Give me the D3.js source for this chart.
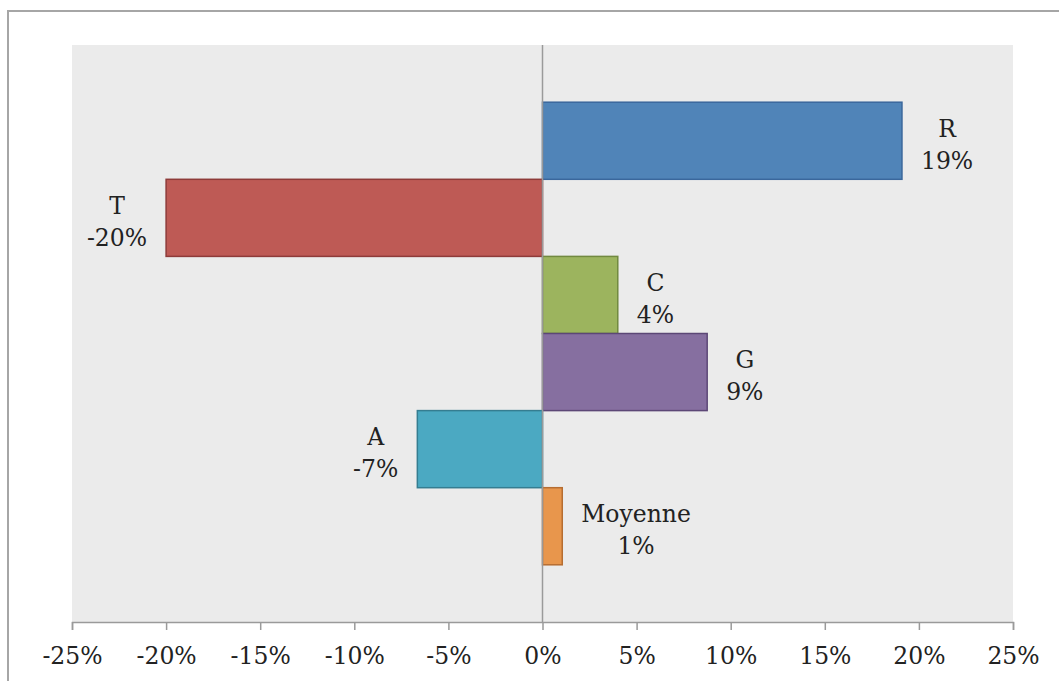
<!DOCTYPE html>
<html>
<head>
<meta charset="utf-8">
<script src="https://cdn.jsdelivr.net/npm/d3@7"></script>
<style>
  html, body { margin: 0; padding: 0; background: #fff; }
  svg { display: block; }
  text { font-family: "DejaVu Serif", "Liberation Serif", serif; fill: #222; }
</style>
</head>
<body>
<svg id="chart" width="1059" height="681"></svg>
<script>
// Écart par rapport à la référence, par série
const categories = ["R", "T", "C", "G", "A", "Moyenne"];
const values = [0.191, -0.20, 0.04, 0.0875, -0.0665, 0.0105];
const fills = ["#5084B8", "#BE5A55", "#9CB45E", "#866FA0", "#4BA9C2", "#E8964C"];
const strokes = ["#3A679C", "#8E3B39", "#71893F", "#5C4776", "#357D91", "#B66D31"];
const tickValues = [-0.25, -0.2, -0.15, -0.1, -0.05, 0, 0.05, 0.1, 0.15, 0.2, 0.25];

const svg = d3.select("#chart");
const W = 1059, H = 681;
const plot = { left: 72, top: 45, right: 1013, bottom: 622 };

// Cadre extérieur du graphique
svg.append("rect")
  .attr("x", 8).attr("y", 11)
  .attr("width", W + 20).attr("height", H + 20)
  .attr("fill", "#fff").attr("stroke", "#a6a6a6").attr("stroke-width", 2);

// Zone de traçage
svg.append("rect")
  .attr("x", plot.left).attr("y", plot.top)
  .attr("width", plot.right - plot.left).attr("height", plot.bottom - plot.top)
  .attr("fill", "#ebebeb");

const x = d3.scaleLinear().domain([-0.25, 0.25]).range([plot.left, plot.right]);
const y = d3.scaleBand().domain(categories).range([plot.top, plot.bottom])
  .paddingInner(0).paddingOuter(0.742);

// Pourcentage entier avec un trait d'union comme signe moins
const pctBase = d3.format(".0%");
const pct = v => pctBase(v).replace("\u2212", "-");

// Barres
svg.append("g").selectAll("rect")
  .data(categories)
  .join("rect")
  .attr("x", (d, i) => Math.min(x(0), x(values[i])))
  .attr("y", d => y(d))
  .attr("width", (d, i) => Math.abs(x(values[i]) - x(0)))
  .attr("height", y.bandwidth())
  .attr("fill", (d, i) => fills[i])
  .attr("stroke", (d, i) => strokes[i])
  .attr("stroke-width", 1.5);

// Ligne du zéro
svg.append("line")
  .attr("x1", x(0)).attr("x2", x(0))
  .attr("y1", plot.top).attr("y2", plot.bottom)
  .attr("stroke", "#9a9a9a").attr("stroke-width", 1.5);

// Axe horizontal
const axis = svg.append("g")
  .attr("transform", `translate(0,${plot.bottom})`)
  .call(d3.axisBottom(x).tickValues(tickValues).tickFormat(pct).tickSizeOuter(0).tickSize(8).tickPadding(17));
axis.select(".domain").attr("stroke", "#9a9a9a").attr("stroke-width", 1.5);
axis.selectAll(".tick line").attr("stroke", "#9a9a9a").attr("stroke-width", 1.5);
axis.selectAll(".tick text")
  .attr("font-size", 23.5).attr("font-family", "DejaVu Serif").attr("fill", "#222");

// Étiquettes de données : nom de la série et valeur
const gap = 19;
const labels = svg.append("g").selectAll("text")
  .data(categories)
  .join("text")
  .attr("font-size", 23.5)
  .attr("text-anchor", "middle");

labels.each(function(d, i) {
  const t = d3.select(this);
  const cy = y(d) + y.bandwidth() / 2;
  const l1 = t.append("tspan").attr("y", cy - 4).text(d);
  const l2 = t.append("tspan").attr("y", cy + 28).text(pct(values[i]));
  const w = Math.max(l1.node().getComputedTextLength(), l2.node().getComputedTextLength());
  const end = x(values[i]);
  const cx = values[i] >= 0 ? end + gap + w / 2 : end - gap - w / 2;
  l1.attr("x", cx);
  l2.attr("x", cx);
});
</script>
</body>
</html>
